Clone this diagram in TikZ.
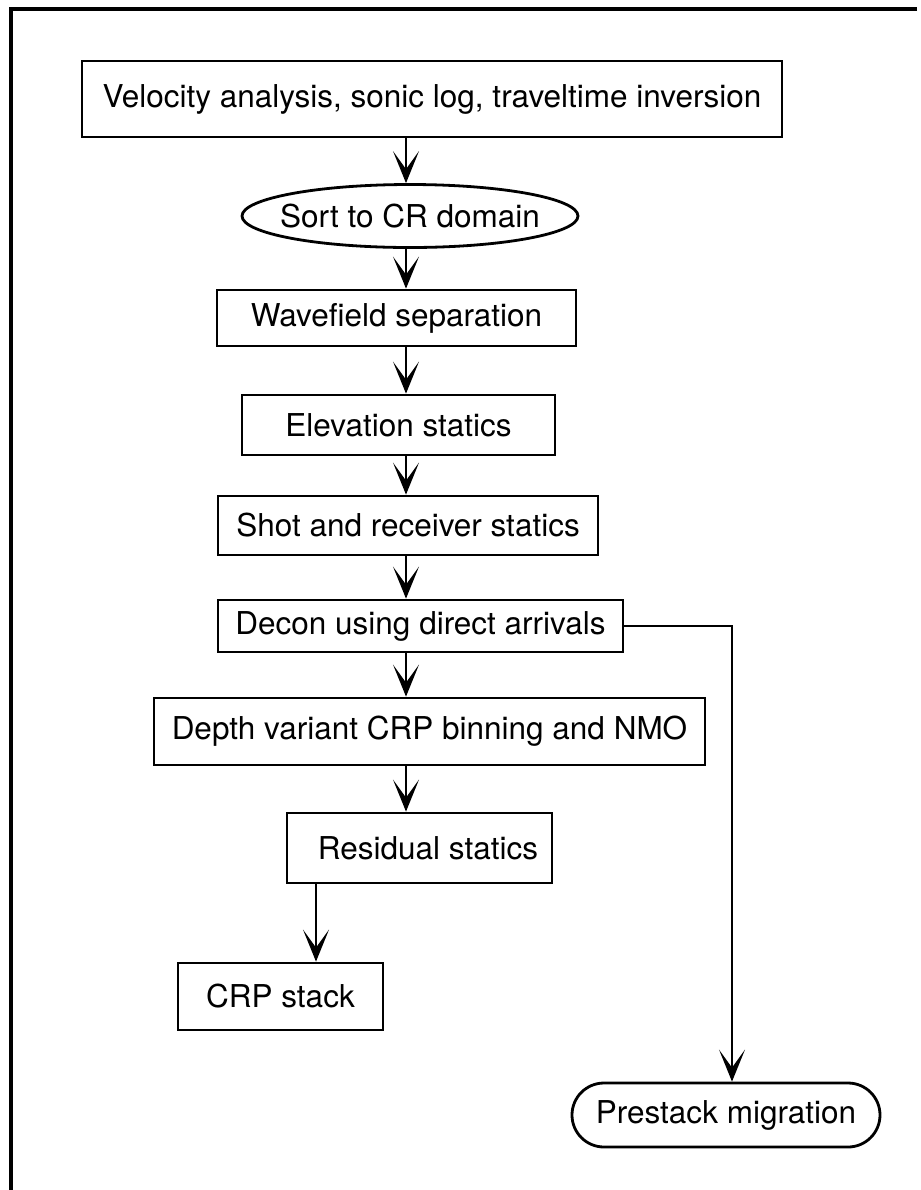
\documentclass[tikz,border=0pt]{standalone}
\usepackage{fontspec}
\setmainfont{TeX Gyre Heros}
\usetikzlibrary{arrows.meta,shapes.geometric,shapes.misc}

\begin{document}
\begin{tikzpicture}[x=0.5pt,y=-0.5pt,
    >={Stealth[length=16pt,width=13pt,inset=9pt]},
    every node/.style={font=\fontsize{15.75}{18}\selectfont},
    box/.style={draw,line width=1.4pt,inner sep=0pt},
    arr/.style={->,line width=1.1pt}]
    \useasboundingbox (0,0) rectangle (921,1190);
    \draw[line width=1.7pt] (917,9) -- (11,9) -- (11,1190);
    \node[box,minimum width=350pt,minimum height=38pt] (vel) at (432,99) {Velocity analysis, sonic log, traveltime inversion};
    \node[box,ellipse,inner xsep=-6pt,minimum width=168pt,minimum height=31.5pt] (sort) at (410,216) {Sort to CR domain};
    \node[box,minimum width=179.5pt,minimum height=28pt] (wave) at (396.5,318) {Wavefield separation};
    \node[box,minimum width=156.5pt,minimum height=30pt] (elev) at (398.5,425) {Elevation statics};
    \node[box,minimum width=190pt,minimum height=29.5pt] (shot) at (408,525.5) {Shot and receiver statics};
    \node[box,minimum width=202.5pt,minimum height=26pt] (dec) at (420.5,626) {Decon using direct arrivals};
    \node[box,minimum width=275.5pt,minimum height=33.5pt] (depth) at (429.5,731.5) {Depth variant CRP binning and NMO};
    \node[box,inner xsep=7pt,text width=118.5pt,align=flush right,minimum height=35pt] (res) at (419.5,848) {Residual statics};
    \node[box,minimum width=102.5pt,minimum height=33.5pt] (crp) at (280.5,996.5) {CRP stack};
    \node[box,rounded rectangle,minimum width=154pt,minimum height=32pt] (pre) at (726,1115) {Prestack migration};
    \coordinate (spine) at (406,0);
    \coordinate (drop) at (316,0);
    \coordinate (brk) at (732,626);
    \draw[arr] (vel.south -| spine) -- (sort.north -| spine);
    \draw[arr] (sort.south -| spine) -- (wave.north -| spine);
    \draw[arr] (wave.south -| spine) -- (elev.north -| spine);
    \draw[arr] (elev.south -| spine) -- (shot.north -| spine);
    \draw[arr] (shot.south -| spine) -- (dec.north -| spine);
    \draw[arr] (dec.south -| spine) -- (depth.north -| spine);
    \draw[arr] (depth.south -| spine) -- (res.north -| spine);
    \draw[arr] (res.south -| drop) -- (crp.north -| drop);
    \draw[arr] (dec.east) -- (brk) -- (pre.north -| brk);
\end{tikzpicture}
\end{document}
